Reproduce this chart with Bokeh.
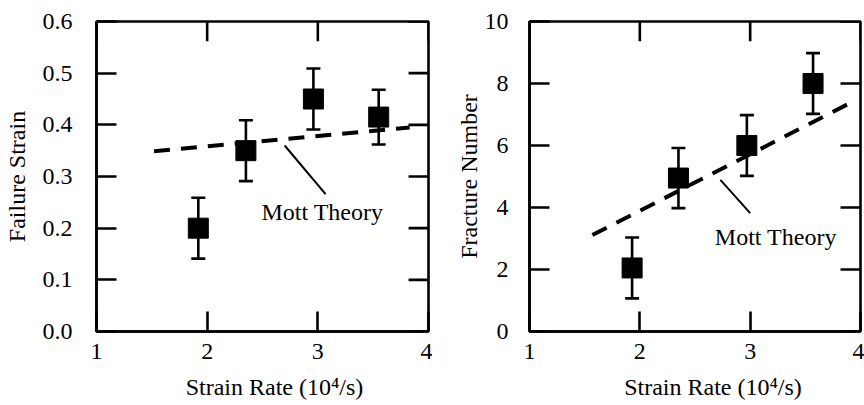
from bokeh.plotting import figure
from bokeh.layouts import row
from bokeh.models import (ColumnDataSource, Whisker, TeeHead, FixedTicker,
                          NumeralTickFormatter, Range1d)
from bokeh.core.properties import value
from bokeh.embed import file_html
from bokeh.resources import INLINE

# ---- data ----
rate_left = [1.92, 2.35, 2.96, 3.55]
failure_strain = [0.20, 0.35, 0.45, 0.415]
failure_strain_err = [0.059, 0.059, 0.059, 0.053]
mott_left_x = [1.52, 3.83]
mott_left_y = [0.349, 0.395]

rate_right = [1.93, 2.35, 2.97, 3.57]
fracture_number = [2.05, 4.95, 6.0, 8.0]
fracture_number_err = [0.98, 0.97, 0.98, 0.98]
mott_right_x = [1.57, 3.90]
mott_right_y = [3.11, 7.36]

x_ticks = [1, 2, 3, 4]
left_y_ticks = [0.0, 0.1, 0.2, 0.3, 0.4, 0.5, 0.6]
right_y_ticks = [0, 2, 4, 6, 8, 10]
x_title = "Strain Rate (10\u2074/s)"

FONT = "Liberation Serif"
FS = "24px"
LW = 2.6
TICK = 20  # px
NBSP = "\u00a0"


def make_panel(x, y, err, mx, my, ylabel, yticks, yrange, yfmt, borders,
               leader, label_pos, ytick_standoff, ylabel_standoff, xpad):
    bl, br, bt, bb = borders
    W, H = 432, 405
    p = figure(width=W, height=H, output_backend="svg", toolbar_location=None,
               x_range=Range1d(1, 4), y_range=Range1d(*yrange),
               min_border_left=bl, min_border_right=br, min_border_top=bt,
               min_border_bottom=bb)
    p.grid.visible = False
    p.outline_line_color = "black"
    p.outline_line_width = LW
    p.background_fill_color = "white"
    p.border_fill_color = "white"

    def style(ax, ticks):
        ax.ticker = FixedTicker(ticks=ticks)
        ax.axis_line_width = LW
        ax.axis_line_color = "black"
        ax.major_tick_in = TICK
        ax.major_tick_out = 0
        ax.major_tick_line_width = LW
        ax.major_tick_line_color = "black"
        ax.minor_tick_line_color = None
        ax.major_label_text_font = FONT
        ax.major_label_text_color = "black"
        ax.major_label_text_font_size = FS
        ax.axis_label_text_font = FONT
        ax.axis_label_text_font_style = "normal"
        ax.axis_label_text_color = "black"
        ax.axis_label_text_font_size = FS

    xa = p.xaxis[0]
    style(xa, x_ticks)
    # leading no-break spaces nudge the title right of the frame centre, as in the original
    xa.axis_label = NBSP * xpad + x_title
    xa.major_label_standoff = 12
    xa.axis_label_standoff = 12

    ya = p.yaxis[0]
    style(ya, yticks)
    ya.axis_label = ylabel
    ya.major_label_standoff = ytick_standoff
    ya.axis_label_standoff = ylabel_standoff
    if yfmt:
        ya.formatter = NumeralTickFormatter(format=yfmt)

    # mirrored inward ticks on top and right edges
    fw = W - bl - br
    fh = H - bt - bb
    x0, x1 = 1, 4
    y0, y1 = yrange
    dy = TICK * (y1 - y0) / fh
    dx = TICK * (x1 - x0) / fw
    p.segment(x0=x_ticks, x1=x_ticks, y0=[y1] * len(x_ticks),
              y1=[y1 - dy] * len(x_ticks), line_color="black", line_width=LW)
    p.segment(x0=[x1] * len(yticks), x1=[x1 - dx] * len(yticks), y0=yticks,
              y1=yticks, line_color="black", line_width=LW)

    # theory line
    p.line(mx, my, line_color="black", line_width=4, line_dash="16 11",
           line_cap="butt")
    # leader line and label
    p.line([leader[0][0], leader[1][0]], [leader[0][1], leader[1][1]],
           line_color="black", line_width=2)
    p.text(x=[label_pos[0]], y=[label_pos[1]], text=["Mott Theory"],
           text_font=value(FONT), text_font_size=FS, text_color="black",
           text_align="left", text_baseline="middle")

    src = ColumnDataSource(dict(x=x, y=y,
                                lo=[a - b for a, b in zip(y, err)],
                                hi=[a + b for a, b in zip(y, err)]))
    w = Whisker(base="x", lower="lo", upper="hi", source=src, dimension="height",
                line_width=LW, line_color="black",
                upper_head=TeeHead(size=14, line_width=LW, line_color="black"),
                lower_head=TeeHead(size=14, line_width=LW, line_color="black"))
    p.add_layout(w)
    p.scatter("x", "y", source=src, marker="square", size=20,
              fill_color="black", line_color="black")
    return p


p1 = make_panel(rate_left, failure_strain, failure_strain_err, mott_left_x, mott_left_y,
                "Failure Strain", left_y_ticks, (0, 0.6), "0.0",
                (95, 4, 19, 74), ((2.70, 0.36), (3.07, 0.266)), (2.49, 0.231),
                24, 10, 4)
p2 = make_panel(rate_right, fracture_number, fracture_number_err, mott_right_x, mott_right_y,
                "Fracture Number", right_y_ticks, (0, 10), None,
                (97, 4, 21, 71), ((2.73, 4.89), (3.0, 3.82)), (2.68, 3.05),
                21, 0, 6)

layout = row(p1, p2)
open("out.html", "w").write(file_html(layout, INLINE))
